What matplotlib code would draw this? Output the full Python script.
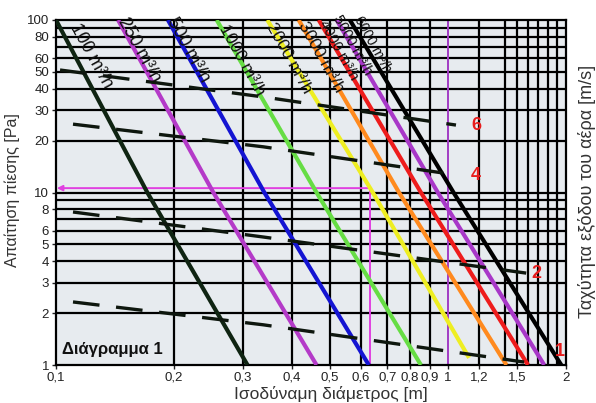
import matplotlib.pyplot as plt
from matplotlib.ticker import FixedLocator, FixedFormatter, NullLocator

# flow rate lines [m3/h]: diameter [m] where each line crosses 100 Pa, 10 Pa and its lower end
flows = [100, 250, 500, 1000, 2000, 3000, 4000, 5000, 6000]
flow_colors = ['#0f2412', '#b43ac8', '#1414d2', '#66dd44', '#eeee22',
               '#ff8a1e', '#ee1c1c', '#a838c8', '#000000']
d_at_100 = [0.100, 0.144, 0.193, 0.257, 0.346, 0.416, 0.468, 0.520, 0.562]
d_at_10 = [0.171, 0.252, 0.340, 0.462, 0.643, 0.750, 0.853, 0.942, 1.033]
d_at_end = [0.308, 0.462, 0.628, 0.853, 1.132, 1.41, 1.60, 1.76, 1.945]
p_at_end = [1, 1, 1, 1, 1.1, 1, 1, 1, 1]

# label spots for the flow lines (diameter, pressure)
flow_lbl_d = [0.123, 0.163, 0.218, 0.298, 0.394, 0.475, 0.527, 0.572, 0.644]
flow_lbl_p = [61.8, 67, 67, 58.6, 60.2, 61.1, 67, 71.6, 72.6]
flow_lbl_size = [13, 13, 13, 12.5, 12.5, 12.5, 10.5, 10.5, 10]

# outlet velocity lines [m/s]
vel_labels = ['6', '4', '2', '1']
vel_d = [[0.1024, 0.338, 1.048],
         [0.1105, 0.338, 1.061],
         [0.1105, 0.338, 1.583],
         [0.1105, 0.338, 1.564]]
vel_p = [[51.3, 35.8, 24.6],
         [24.9, 18.4, 12.6],
         [7.71, 5.52, 3.41],
         [2.32, 1.71, 1.04]]
vel_lbl_d = [1.18, 1.18, 1.68, 1.93]
vel_lbl_p = [24.6, 12.6, 3.41, 1.19]

# worked example: 2000 m3/h at ~10.6 Pa -> 0.63 m
ex_d, ex_p = 0.632, 10.6

x_ticks = [0.1, 0.2, 0.3, 0.4, 0.5, 0.6, 0.7, 0.8, 0.9, 1, 1.2, 1.5, 2]
x_ticklabels = ['0,1', '0,2', '0,3', '0,4', '0,5', '0,6', '0,7', '0,8', '0,9',
                '1', '1,2', '1,5', '2']
x_grid = [0.2, 0.3, 0.4, 0.5, 0.6, 0.7, 0.8, 0.9, 1.2, 1.4, 1.5, 1.6, 1.7,
          1.8, 1.9]
y_ticks = [1, 2, 3, 4, 5, 6, 8, 10, 20, 30, 40, 50, 60, 80, 100]
y_grid = [2, 3, 4, 5, 6, 7, 8, 9, 10, 20, 30, 40, 50, 60, 70, 80, 90]

plt.rcParams['font.family'] = ['Liberation Sans', 'DejaVu Sans']
narrow = ['Liberation Sans Narrow', 'Liberation Sans', 'DejaVu Sans']

fig = plt.figure(figsize=(5.96, 4.03), dpi=100)
ax = fig.add_axes([56 / 596, 38 / 403, 510 / 596, 345 / 403])
ax.set_facecolor('#e7ebef')
ax.set_xscale('log')
ax.set_yscale('log')
ax.set_xlim(0.1, 2)
ax.set_ylim(1, 100)

for g in y_grid:
    ax.axhline(g, color='black', lw=1.6, zorder=1)
for g in x_grid:
    ax.axvline(g, color='black', lw=1.6, zorder=1)
ax.axvline(1, color='#a23cc4', lw=1.4, zorder=1)

# flow lines
for i in range(len(flows)):
    ax.plot([d_at_100[i], d_at_10[i], d_at_end[i]], [100, 10, p_at_end[i]],
            color=flow_colors[i], lw=3, zorder=3, solid_capstyle='butt')
    ax.text(flow_lbl_d[i], flow_lbl_p[i], f'{flows[i]} m³/h',
            rotation=-61, rotation_mode='anchor', ha='center', va='center',
            fontsize=flow_lbl_size[i], color='#111111', zorder=5,
            family=narrow)

# velocity lines
for i in range(len(vel_labels)):
    ax.plot(vel_d[i], vel_p[i], color='#0e170e', lw=2.4, ls=(0, (8, 5)),
            zorder=4)
    ax.text(vel_lbl_d[i], vel_lbl_p[i], vel_labels[i], color='#e81c1c',
            fontsize=13, fontweight='bold', ha='center', va='center', zorder=5)

# example read-off
ax.plot([ex_d, ex_d], [1, ex_p], color='#e040e0', lw=1.4, zorder=2)
ax.annotate('', xy=(0.1005, ex_p), xytext=(ex_d, ex_p),
            arrowprops=dict(arrowstyle='-|>', color='#e040e0', lw=1.4,
                            mutation_scale=8, shrinkA=0, shrinkB=0),
            zorder=2)

ax.text(0.012, 0.046, 'Διάγραμμα 1', transform=ax.transAxes, fontsize=12,
        fontweight='bold', ha='left', va='center', color='#111111', zorder=6)

ax.xaxis.set_major_locator(FixedLocator(x_ticks))
ax.xaxis.set_major_formatter(FixedFormatter(x_ticklabels))
ax.xaxis.set_minor_locator(NullLocator())
ax.yaxis.set_major_locator(FixedLocator(y_ticks))
ax.yaxis.set_major_formatter(FixedFormatter([str(v) for v in y_ticks]))
ax.yaxis.set_minor_locator(NullLocator())
ax.tick_params(length=3, width=1, labelsize=9.5, colors='#222222', pad=2)
for lbl in ax.get_xticklabels() + ax.get_yticklabels():
    lbl.set_family(narrow)
for s in ax.spines.values():
    s.set_linewidth(1.6)
    s.set_color('black')

fig.text(12 / 596, 1 - 190 / 403, 'Απαίτηση πίεσης [Pa]', rotation=90,
         ha='center', va='center', fontsize=11.5, color='#333333')
fig.text(587 / 596, 1 - 191 / 403, 'Ταχύτητα εξόδου του αέρα [m/s]',
         rotation=90, ha='center', va='center', fontsize=13, color='#333333')
fig.text(331 / 596, 1 - 394 / 403, 'Ισοδύναμη διάμετρος [m]', ha='center',
         va='center', fontsize=12.5, color='#333333')

fig.savefig('out.png', dpi=100)
